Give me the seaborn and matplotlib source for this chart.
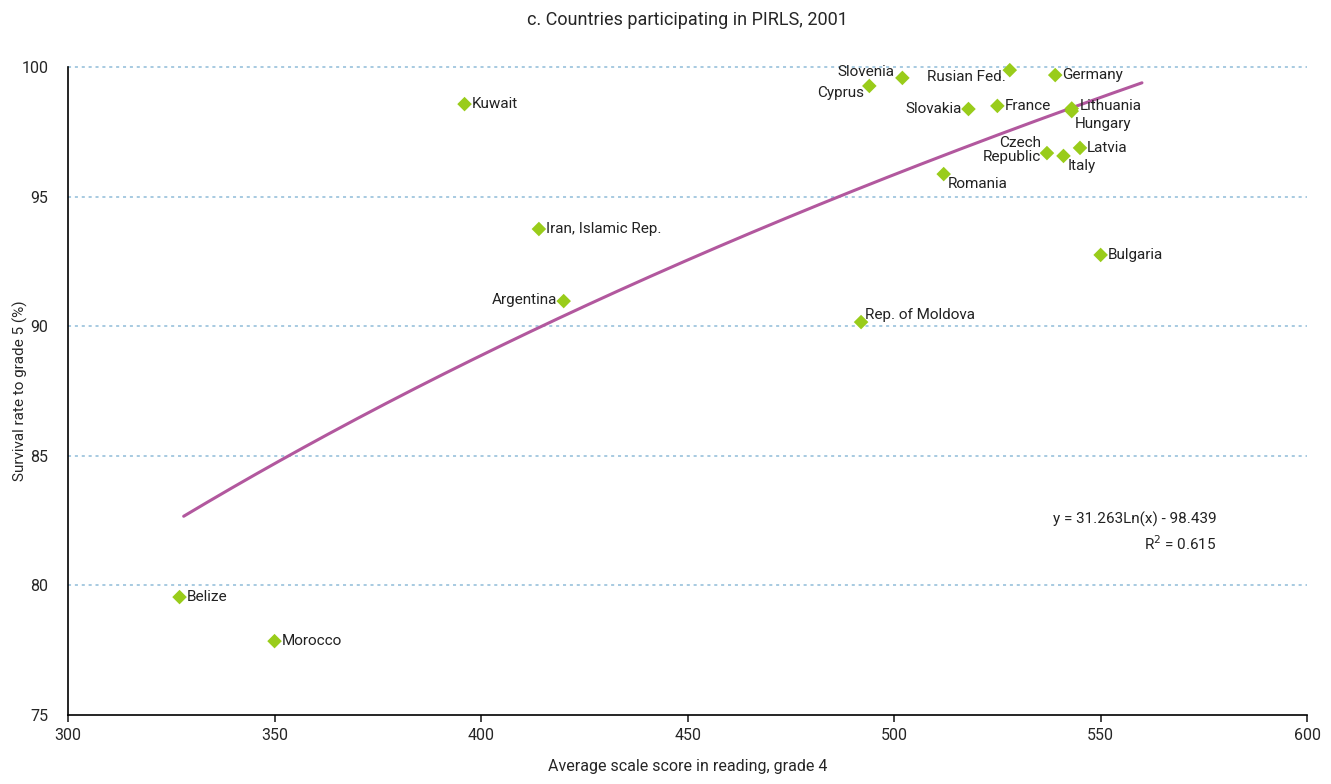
import numpy as np
import pandas as pd
import matplotlib
matplotlib.use("Agg")
import matplotlib.pyplot as plt
import seaborn as sns

# Data
countries = ["Kuwait", "Iran, Islamic Rep.", "Argentina", "Belize", "Morocco",
             "Rep. of Moldova", "Romania", "Bulgaria", "Cyprus", "Slovenia",
             "Rusian Fed.", "Germany", "Slovakia", "France", "Lithuania",
             "Hungary", "Czech\nRepublic", "Italy", "Latvia"]
reading_score = [396, 414, 420, 327, 350, 492, 512, 550, 494, 502,
                 528, 539, 518, 525, 543, 543, 537, 541, 545]
survival_rate = [98.57, 93.75, 90.97, 79.55, 77.85, 90.16, 95.87, 92.75, 99.27, 99.58,
                 99.88, 99.69, 98.38, 98.5, 98.4, 98.3, 96.68, 96.57, 96.88]

# label offsets in points (dx, dy, ha)
label_pos = {
    "Kuwait": (5, 0, "left"), "Iran, Islamic Rep.": (5, 0, "left"),
    "Argentina": (-5, 1, "right"), "Belize": (5, 0, "left"),
    "Morocco": (5, 0, "left"), "Rep. of Moldova": (3, 5, "left"),
    "Romania": (3, -7, "left"), "Bulgaria": (5, 0, "left"),
    "Cyprus": (-4, -5, "right"), "Slovenia": (-6, 4, "right"),
    "Rusian Fed.": (-3, -5, "right"), "Germany": (5, 0, "left"),
    "Slovakia": (-5, 0, "right"), "France": (5, 0, "left"),
    "Lithuania": (6, 2, "left"), "Hungary": (2, -9, "left"),
    "Czech\nRepublic": (-4, 2, "right"), "Italy": (3, -7, "left"),
    "Latvia": (5, 0, "left"),
}

# fitted trend: y = 31.263 ln(x) - 98.439
fit_a, fit_b = 31.263, -98.439
fit_range = (328, 560)

df = pd.DataFrame({"country": countries, "score": reading_score, "survival": survival_rate})

sns.set_theme(style="white")
plt.rcParams["font.family"] = ["Roboto", "DejaVu Sans"]

fig = plt.figure(figsize=(13.31, 7.84), dpi=100)
ax = fig.add_axes([0.0511, 0.088, 0.931, 0.8265])

fit_x = np.linspace(fit_range[0], fit_range[1], 200)
fit_df = pd.DataFrame({"x": fit_x, "y": fit_a * np.log(fit_x) + fit_b})
sns.lineplot(data=fit_df, x="x", y="y", ax=ax, color="#B2589E", linewidth=2.2, zorder=2)

sns.scatterplot(data=df, x="score", y="survival", ax=ax, marker="D", s=55,
                color="#99CC1A", edgecolor="none", zorder=3, clip_on=False)

for _, row in df.iterrows():
    dx, dy, ha = label_pos[row["country"]]
    ax.annotate(row["country"], (row["score"], row["survival"]), xytext=(dx, dy),
                textcoords="offset points", ha=ha, va="center", multialignment=ha,
                fontsize=11, color="#222222", linespacing=1.0)

ax.text(0.927, 0.282, "y = 31.263Ln(x) - 98.439\nR$^2$ = 0.615", transform=ax.transAxes,
        ha="right", va="center", multialignment="right", fontsize=11, color="#222222",
        linespacing=1.5)

ax.set_xlim(300, 600)
ax.set_ylim(75, 100)
ax.set_xticks([300, 350, 400, 450, 500, 550, 600])
ax.set_yticks([75, 80, 85, 90, 95, 100])
for g in [80, 85, 90, 95, 100]:
    ax.axhline(g, color="#8FBCD8", linestyle=(0, (2, 2.5)), linewidth=1.1, zorder=1,
               clip_on=False)

for s in ["top", "right"]:
    ax.spines[s].set_visible(False)
for s in ["left", "bottom"]:
    ax.spines[s].set_color("black")
    ax.spines[s].set_linewidth(1.2)
ax.tick_params(axis="x", bottom=True, length=5, width=1.2, direction="out", labelsize=11.5, pad=4)
ax.tick_params(axis="y", left=False, labelsize=11.5, pad=8)

ax.set_xlabel("Average scale score in reading, grade 4", fontsize=11.5, labelpad=12)
ax.set_ylabel("Survival rate to grade 5 (%)", fontsize=11)
ax.yaxis.set_label_coords(-0.032, 0.5)
ax.set_title("c. Countries participating in PIRLS, 2001", fontsize=13, pad=30)

fig.savefig("out.png", dpi=100)
